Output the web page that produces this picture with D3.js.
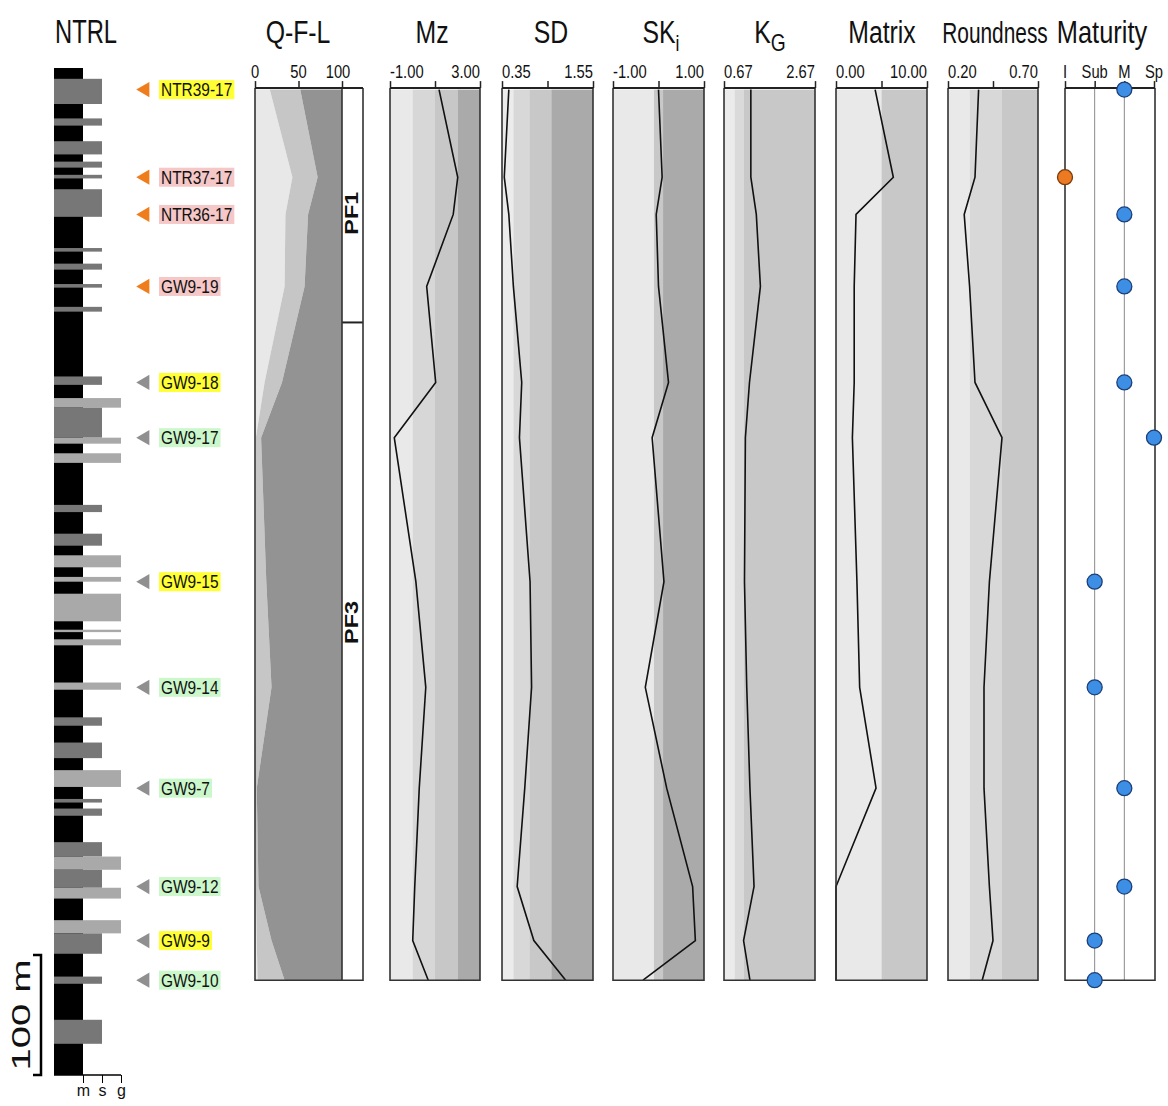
<!DOCTYPE html>
<html lang="en">
<head>
<meta charset="UTF-8">
<title>NTRL section</title>
<style>
  body { margin: 0; background: #fff; }
  text { font-family: "Liberation Sans", Arial, sans-serif; fill: #111; }
</style>
</head>
<body>
<script src="https://d3js.org/d3.v7.min.js"></script>
<script>
// samples, top to bottom of the section (depth in m below section top)
var samples = ["NTR39-17", "NTR37-17", "NTR36-17", "GW9-19", "GW9-18", "GW9-17",
               "GW9-15", "GW9-14", "GW9-7", "GW9-12", "GW9-9", "GW9-10"];
var sampleDepth = [18, 91, 122, 182, 262, 308, 428, 516, 600, 682, 727, 760];
var sampleSet = ["a", "a", "a", "a", "b", "b", "b", "b", "b", "b", "b", "b"];
var sampleTag = ["y", "p", "p", "p", "y", "g", "y", "g", "g", "g", "y", "g"];

// Q-F-L percentages
var qtz = [17, 43, 35, 34, 11, 1, 1, 1, 0, 1, 2, 3];
var fsp = [35, 29, 26, 23, 20, 6, 12, 18, 2, 3, 17, 31];
var lit = [48, 28, 39, 43, 69, 93, 87, 81, 98, 96, 81, 66];

// grain size statistics
var mz = [1.18, 2.01, 1.81, 0.63, 1.03, -0.81, 0.15, 0.59, 0.30, 0.10, 0.01, 0.70];
var sd = [0.44, 0.38, 0.44, 0.50, 0.61, 0.58, 0.72, 0.74, 0.65, 0.55, 0.77, 1.19];
var ski = [0.00, 0.08, -0.05, 0.00, 0.22, -0.14, 0.12, -0.29, 0.18, 0.75, 0.81, -0.34];
var kg = [1.26, 1.26, 1.38, 1.47, 1.23, 1.14, 1.12, 1.17, 1.24, 1.33, 1.10, 1.24];
var matrix = [4.3, 6.3, 2.2, 2.0, 2.0, 1.8, 2.3, 2.6, 4.4, 0.0, 0.0, 0.0];
var roundness = [0.37, 0.35, 0.29, 0.32, 0.35, 0.50, 0.43, 0.40, 0.40, 0.43, 0.45, 0.39];
var maturity = ["M", "I", "M", "M", "M", "Sp", "Sub", "Sub", "M", "M", "Sub", "Sub"];
var maturityClasses = ["I", "Sub", "M", "Sp"];

// class boundaries drawn as shaded bands
var mzBreaks = [-1, 0, 1, 2, 3];
var sdBreaks = [0.35, 0.5, 0.71, 1.0, 1.55];
var skBreaks = [-1, -0.1, 0.1, 1];
var kgBreaks = [0.67, 0.9, 1.11, 2.67];
var matrixBreaks = [0, 5, 10];
var roundBreaks = [0.2, 0.32, 0.5, 0.7];

// petrofacies units
var pfNames = ["PF1", "PF3"];
var pfTop = [18, 212];
var pfBase = [212, 760];
var pfLabelDepth = [121, 462];

// lithology log: mud background, sand/gravel beds
var sectionThickness = 839;
var grainClasses = ["m", "s", "g"];
var bedTop = [9, 42, 61, 78, 89, 101, 150, 163, 180, 199, 257, 275, 283, 308, 321, 364, 388, 406,
              424, 438, 468, 476, 512, 541, 562, 585, 609, 617, 645, 657, 668, 683, 710, 721, 757, 793];
var bedBase = [30, 48, 72, 83, 92, 124, 153, 168, 183, 203, 264, 283, 308, 313, 329, 370, 398, 416,
               428, 461, 470, 481, 518, 548, 575, 599, 612, 623, 657, 668, 683, 692, 721, 738, 763, 813];
var bedGrain = ["s", "s", "s", "s", "s", "s", "s", "s", "s", "s", "s", "g", "s", "g", "g", "s", "s", "g",
                "g", "g", "g", "g", "g", "s", "s", "g", "s", "s", "s", "g", "s", "g", "g", "s", "s", "s"];
var scaleBarLength = 100;

var width = 1168, height = 1106;
var svg = d3.select("body").append("svg")
    .attr("width", width)
    .attr("height", height);

var depth = d3.scaleLinear().domain([0, sectionThickness]).range([68, 1075]);
var yTop = depth(sampleDepth[0]), yBase = depth(sampleDepth[sampleDepth.length - 1]);
var axisY = yTop - 1.5;

// text in the figure is narrow, squeeze it a bit
function addText(g, x, y, str, size, anchor, sx) {
    return g.append("text")
        .attr("transform", "translate(" + x + "," + y + ") scale(" + (sx || 0.84) + ",1)")
        .attr("text-anchor", anchor || "middle")
        .attr("font-size", size)
        .text(str);
}

// ---------- lithology column ----------
var grainX = d3.scaleOrdinal().domain(grainClasses).range([83, 102, 121]);
var grainFill = {m: "#000", s: "#777", g: "#a9a9a9"};
var logLeft = 54;
var logG = svg.append("g");

logG.append("rect")
    .attr("x", logLeft).attr("y", depth(0))
    .attr("width", grainX("m") - logLeft)
    .attr("height", depth(sectionThickness) - depth(0))
    .attr("fill", grainFill.m);

logG.selectAll("rect.bed")
    .data(bedTop)
    .enter().append("rect")
    .attr("class", "bed")
    .attr("x", logLeft)
    .attr("y", function(d) { return depth(d); })
    .attr("width", function(d, i) { return grainX(bedGrain[i]) - logLeft; })
    .attr("height", function(d, i) { return depth(bedBase[i]) - depth(d); })
    .attr("fill", function(d, i) { return grainFill[bedGrain[i]]; });

var logAxis = d3.axisBottom(grainX).tickSize(8).tickSizeOuter(0);
var la = logG.append("g")
    .attr("transform", "translate(0," + depth(sectionThickness) + ")")
    .call(logAxis);
la.select(".domain").remove();
la.append("line").attr("x1", logLeft).attr("x2", grainX("g"))
    .attr("stroke", "#000").attr("stroke-width", 1.5);
la.selectAll("text").attr("font-size", 16).attr("fill", "#222").attr("y", 10);
la.selectAll("line").attr("stroke", "#000");

// scale bar
var sbTop = depth(sectionThickness - scaleBarLength), sbBase = depth(sectionThickness);
logG.append("path")
    .attr("d", "M33," + sbTop + "H41V" + sbBase + "H33")
    .attr("fill", "none").attr("stroke", "#000").attr("stroke-width", 2.5);
logG.append("text")
    .attr("transform", "translate(30," + ((sbTop + sbBase) / 2) + ") rotate(-90) scale(1.6,1)")
    .attr("text-anchor", "middle")
    .attr("font-size", 25)
    .text(scaleBarLength + " m");

// ---------- sample markers ----------
var tagFill = {y: "#ffff33", p: "#f5c7c7", g: "#cbf7cb"};
var markG = svg.append("g");
samples.forEach(function(s, i) {
    var y = depth(sampleDepth[i]);
    markG.append("path")
        .attr("d", d3.symbol().type(d3.symbolTriangle).size(100)())
        .attr("transform", "translate(145," + y + ") rotate(-90)")
        .attr("fill", sampleSet[i] === "a" ? "#f07d1c" : "#8f8f8f");
    var box = markG.append("rect").attr("fill", tagFill[sampleTag[i]]);
    var t = addText(markG, 161, y + 6.5, s, 18, "start", 0.86);
    var w = t.node().getComputedTextLength() * 0.86;
    box.attr("x", 159).attr("y", y - 9.5).attr("width", w + 4).attr("height", 19);
});

// ---------- titles ----------
var titleG = svg.append("g");
addText(titleG, 86, 43, "NTRL", 33, "middle", 0.72);
addText(titleG, 298, 43, "Q-F-L", 31, "middle", 0.8);
addText(titleG, 432, 43, "Mz", 31, "middle", 0.8);
addText(titleG, 551, 43, "SD", 31, "middle", 0.8);
var skT = addText(titleG, 661, 43, "SK", 31, "middle", 0.8);
skT.append("tspan").attr("dy", 8).attr("font-size", 22).text("i");
var kgT = addText(titleG, 770, 43, "K", 31, "middle", 0.8);
kgT.append("tspan").attr("dy", 8).attr("font-size", 24).text("G");
addText(titleG, 882, 43, "Matrix", 31, "middle", 0.8);
addText(titleG, 995, 43, "Roundness", 29, "middle", 0.72);
addText(titleG, 1102, 43, "Maturity", 31, "middle", 0.82);

// ---------- helpers for the property panels ----------
function topAxis(g, x, ticks, labels) {
    var ax = d3.axisTop(x).tickValues(ticks).tickSize(7).tickSizeOuter(0).tickFormat("");
    var a = g.append("g").attr("transform", "translate(0," + axisY + ")").call(ax);
    a.select(".domain").remove();
    a.selectAll("line").attr("stroke", "#222").attr("stroke-width", 1.5);
    labels.forEach(function(l) {
        addText(g, x(l.v) + (l.dx || 0), axisY - 10, l.t, 18, l.a, 0.82);
    });
}

function frame(g, x0, x1) {
    g.append("path")
        .attr("d", "M" + x0 + "," + axisY + "V" + yBase + "H" + x1 + "V" + axisY)
        .attr("fill", "none").attr("stroke", "#333").attr("stroke-width", 1.6);
    g.append("line").attr("x1", x0).attr("x2", x1).attr("y1", axisY).attr("y2", axisY)
        .attr("stroke", "#222").attr("stroke-width", 2);
}

var line = function(x, values) {
    return d3.line()
        .x(function(d, i) { return x(values[i]); })
        .y(function(d) { return depth(d); })(sampleDepth);
};

function propertyPanel(x0, x1, breaks, colours, values, ticks, labels) {
    var g = svg.append("g");
    var x = d3.scaleLinear().domain([breaks[0], breaks[breaks.length - 1]]).range([x0, x1]);
    g.selectAll("rect")
        .data(breaks.slice(0, -1))
        .enter().append("rect")
        .attr("x", function(d) { return x(d); })
        .attr("width", function(d, i) { return x(breaks[i + 1]) - x(d); })
        .attr("y", yTop).attr("height", yBase - yTop)
        .attr("fill", function(d, i) { return colours[i]; });
    g.append("path")
        .attr("d", line(x, values))
        .attr("fill", "none").attr("stroke", "#111").attr("stroke-width", 1.6);
    frame(g, x0, x1);
    topAxis(g, x, ticks, labels);
    return g;
}

// ---------- Q-F-L ----------
var qflG = svg.append("g");
var qx = d3.scaleLinear().domain([0, 100]).range([255, 342]);
var qflLayers = [
    {x0: function(i) { return 0; }, x1: function(i) { return qtz[i]; }, c: "#e8e8e8"},
    {x0: function(i) { return qtz[i]; }, x1: function(i) { return qtz[i] + fsp[i]; }, c: "#c6c6c6"},
    {x0: function(i) { return qtz[i] + fsp[i]; }, x1: function(i) { return qtz[i] + fsp[i] + lit[i]; }, c: "#939393"}
];
qflLayers.forEach(function(L) {
    qflG.append("path")
        .attr("d", d3.area()
            .y(function(d) { return depth(d); })
            .x0(function(d, i) { return qx(L.x0(i)); })
            .x1(function(d, i) { return qx(L.x1(i)); })(sampleDepth))
        .attr("fill", L.c);
});
// petrofacies box
var pfx0 = qx(100), pfx1 = 363;
qflG.append("rect").attr("x", pfx0).attr("y", yTop).attr("width", pfx1 - pfx0)
    .attr("height", yBase - yTop).attr("fill", "#fff");
pfNames.forEach(function(n, i) {
    if (i > 0) {
        qflG.append("line").attr("x1", pfx0).attr("x2", pfx1)
            .attr("y1", depth(pfTop[i])).attr("y2", depth(pfTop[i]))
            .attr("stroke", "#222").attr("stroke-width", 2);
    }
    qflG.append("text")
        .attr("transform", "translate(" + (pfx0 + 16) + "," + depth(pfLabelDepth[i]) + ") rotate(-90) scale(1.3,1)")
        .attr("text-anchor", "middle").attr("font-size", 18).attr("font-weight", "bold")
        .text(n);
});
qflG.append("path")
    .attr("d", "M" + qx(0) + "," + axisY + "V" + yBase + "H" + pfx1 + "V" + axisY)
    .attr("fill", "none").attr("stroke", "#333").attr("stroke-width", 1.6);
qflG.append("line").attr("x1", pfx0).attr("x2", pfx0).attr("y1", axisY).attr("y2", yBase)
    .attr("stroke", "#333").attr("stroke-width", 1.6);
qflG.append("line").attr("x1", qx(0)).attr("x2", pfx1).attr("y1", axisY).attr("y2", axisY)
    .attr("stroke", "#222").attr("stroke-width", 2);
topAxis(qflG, qx, [0, 50, 100], [{v: 0, t: "0", a: "middle"}, {v: 50, t: "50", a: "middle"}, {v: 100, t: "100", a: "middle", dx: -4}]);

// ---------- grain size panels ----------
propertyPanel(390, 480, mzBreaks, ["#e9e9e9", "#d7d7d7", "#c7c7c7", "#aaaaaa"], mz,
    [-1, 1, 3], [{v: -1, t: "-1.00", a: "start"}, {v: 3, t: "3.00", a: "end"}]);
propertyPanel(502, 593, sdBreaks, ["#ececec", "#d8d8d8", "#c8c8c8", "#aaaaaa"], sd,
    [0.35, 0.95, 1.55], [{v: 0.35, t: "0.35", a: "start"}, {v: 1.55, t: "1.55", a: "end"}]);
propertyPanel(613, 704, skBreaks, ["#e9e9e9", "#c8c8c8", "#aaaaaa"], ski,
    [-1, 0, 1], [{v: -1, t: "-1.00", a: "start"}, {v: 1, t: "1.00", a: "end"}]);
propertyPanel(724, 815, kgBreaks, ["#ebebeb", "#dadada", "#c8c8c8"], kg,
    [0.67, 2.67], [{v: 0.67, t: "0.67", a: "start"}, {v: 2.67, t: "2.67", a: "end"}]);
propertyPanel(836, 927, matrixBreaks, ["#e9e9e9", "#c8c8c8"], matrix,
    [0, 5, 10], [{v: 0, t: "0.00", a: "start"}, {v: 10, t: "10.00", a: "end"}]);
propertyPanel(948, 1038, roundBreaks, ["#e9e9e9", "#d8d8d8", "#c8c8c8"], roundness,
    [0.2, 0.45, 0.7], [{v: 0.2, t: "0.20", a: "start"}, {v: 0.7, t: "0.70", a: "end"}]);

// ---------- maturity ----------
var matG = svg.append("g");
var mx = d3.scalePoint().domain(maturityClasses).range([1065, 1154]);
["Sub", "M"].forEach(function(c) {
    matG.append("line").attr("x1", mx(c)).attr("x2", mx(c)).attr("y1", axisY).attr("y2", yBase)
        .attr("stroke", "#8a8a8a").attr("stroke-width", 1);
});
frame(matG, mx("I"), mx("Sp") + 1);
topAxis(matG, mx, maturityClasses, maturityClasses.map(function(c) {
    return {v: c, t: c, a: "middle"};
}));
matG.selectAll("circle")
    .data(sampleDepth)
    .enter().append("circle")
    .attr("cx", function(d, i) { return mx(maturity[i]); })
    .attr("cy", function(d) { return depth(d); })
    .attr("r", 7.5)
    .attr("fill", function(d, i) { return sampleSet[i] === "a" && maturity[i] === "I" ? "#ec7a22" : "#3d8fe6"; })
    .attr("stroke", function(d, i) { return maturity[i] === "I" ? "#7a3a0a" : "#1d3f78"; })
    .attr("stroke-width", 1.3);
</script>
</body>
</html>
